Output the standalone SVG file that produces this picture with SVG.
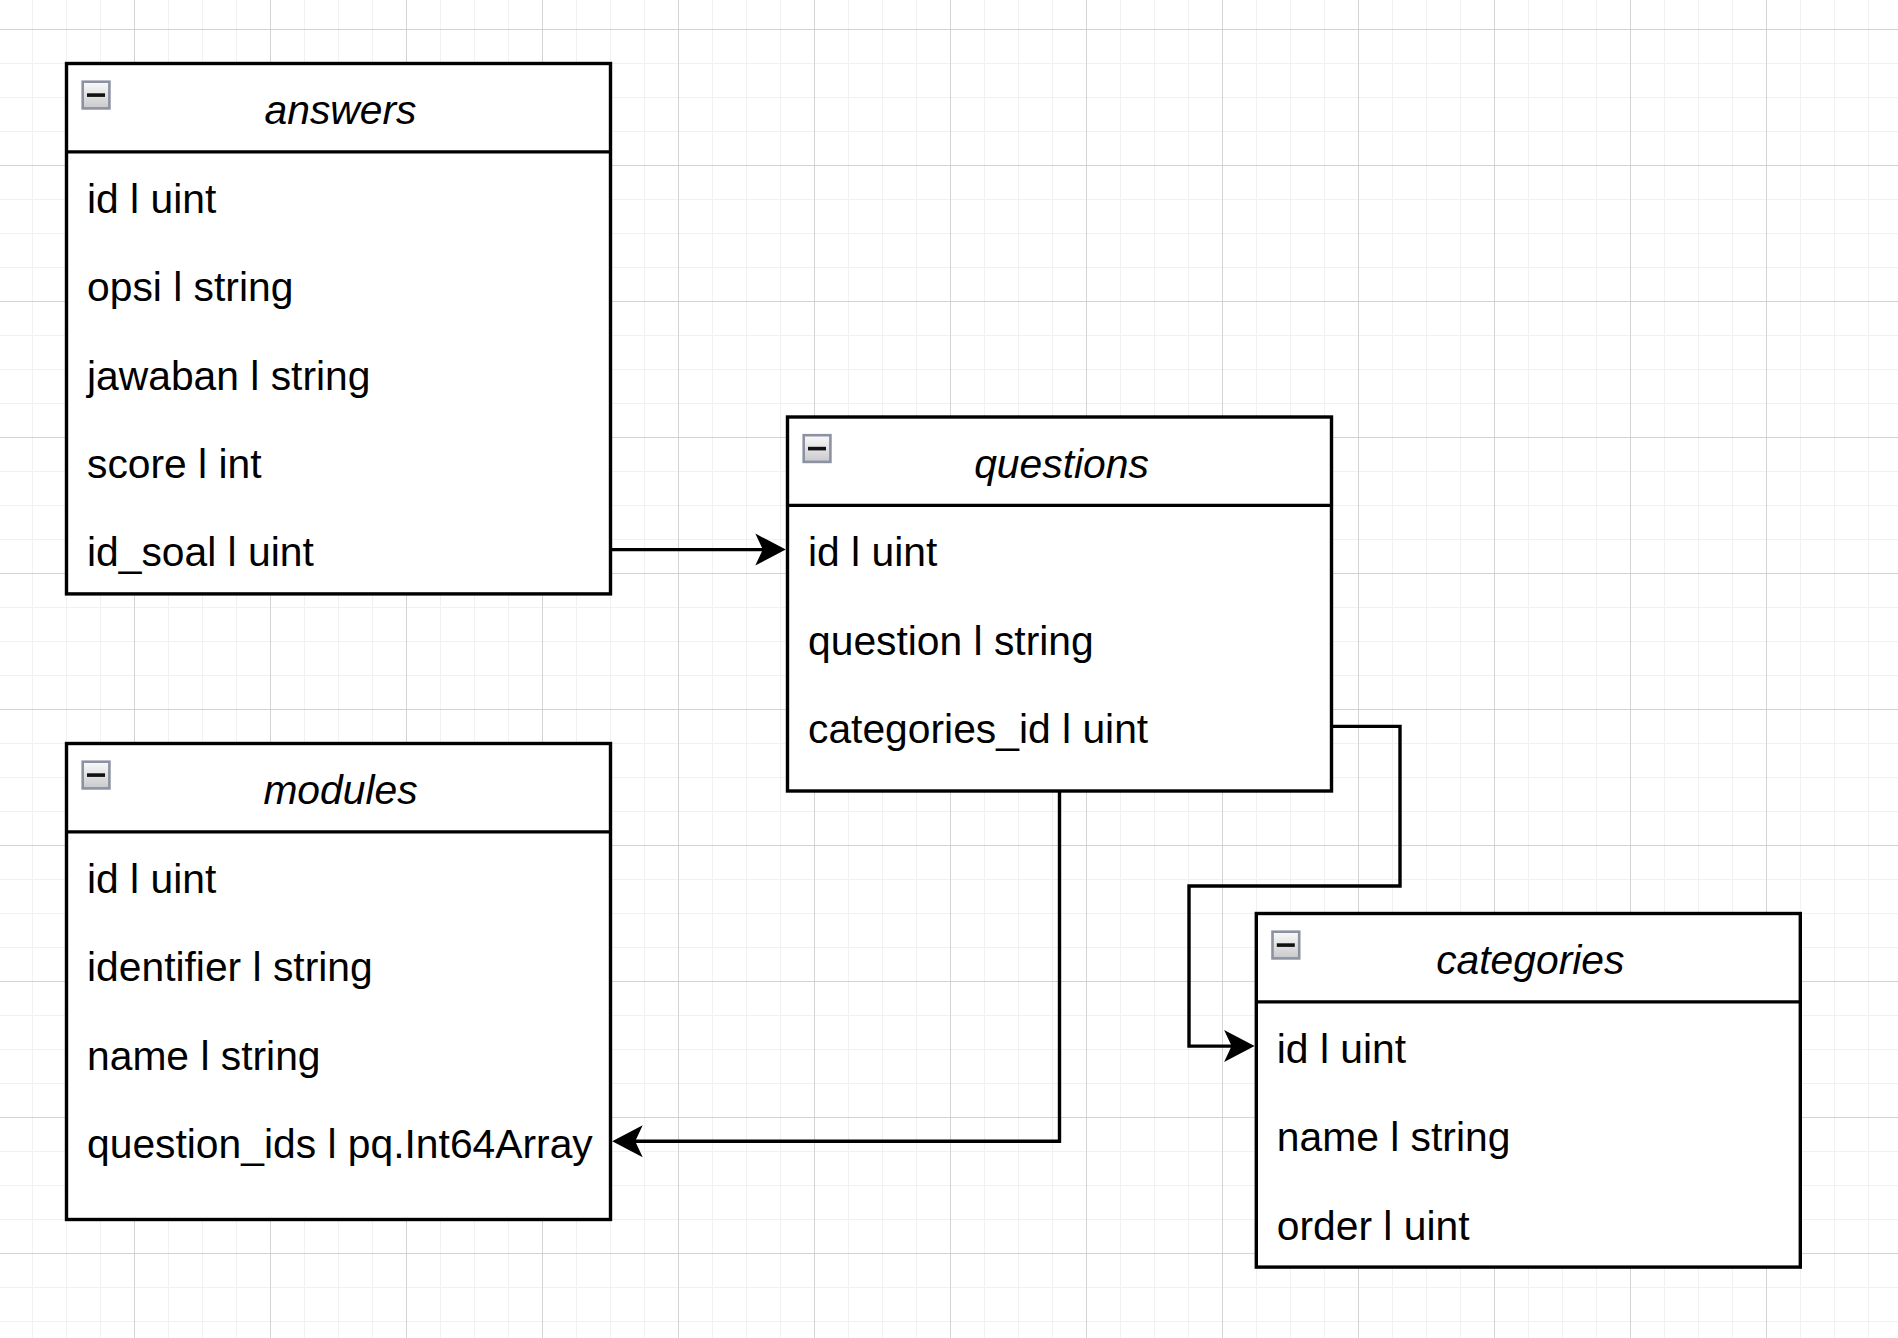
<svg xmlns="http://www.w3.org/2000/svg" width="1898" height="1338" viewBox="0 0 1898 1338">
  <style>
    .box { fill: #ffffff; stroke: #000000; stroke-width: 3.4; }
    .div { stroke: #000000; stroke-width: 3.4; fill: none; }
    .title { font-family: "Liberation Sans", Arial, sans-serif; font-size: 40.8px; font-style: italic; fill: #000000; text-anchor: middle; }
    .field { font-family: "Liberation Sans", Arial, sans-serif; font-size: 40.8px; fill: #000000; }
    .icon { fill: url(#iconGrad); stroke: #8c92a2; stroke-width: 2.6; }
    .dash { fill: #111111; }
    .edge { fill: none; stroke: #000000; stroke-width: 3.4; stroke-linejoin: miter; }
  </style>
  <defs>
    <linearGradient id="iconGrad" x1="0" y1="0" x2="0" y2="1">
      <stop offset="0" stop-color="#fafafa"/>
      <stop offset="1" stop-color="#c9c9cc"/>
    </linearGradient>
    <pattern id="grid" patternUnits="userSpaceOnUse" x="-2" y="29" width="136" height="136">
      <rect x="0" y="0" width="136" height="136" fill="#ffffff"/>
      <path d="M34.5,0 V136 M68.5,0 V136 M102.5,0 V136 M0,34.5 H136 M0,68.5 H136 M0,102.5 H136" stroke="#f1f1f1" stroke-width="1" fill="none"/>
      <path d="M0.5,0 V136 M0,0.5 H136" stroke="#d3d3d3" stroke-width="1" fill="none"/>
    </pattern>
    <marker id="arrow" markerUnits="userSpaceOnUse" viewBox="-22 -18 36 36" markerWidth="36" markerHeight="36" refX="0" refY="0" orient="auto">
      <path d="M10,0 L-20.5,-16 L-13,0 L-20.5,16 Z" fill="#000000" stroke="none"/>
    </marker>
  </defs>

  <rect x="0" y="0" width="1898" height="1338" fill="url(#grid)"/>

  <g id="connectors">
    <path class="edge" d="M610.5,549.6 H775.8" marker-end="url(#arrow)"/>
    <path class="edge" d="M1059.5,791 V1141.3 H622.2" marker-end="url(#arrow)"/>
    <path class="edge" d="M1331.5,726.4 H1400 V886 H1189 V1046.1 H1244.6" marker-end="url(#arrow)"/>
  </g>

  <g id="answers" transform="translate(66.5,63.5)">
    <rect class="box" x="0" y="0" width="544" height="530.4"/>
    <line class="div" x1="0" y1="88.4" x2="544" y2="88.4"/>
    <rect class="icon" x="16.2" y="18.2" width="26.7" height="26.7"/>
    <rect class="dash" x="20.5" y="29.8" width="18" height="3.6"/>
    <text class="title" x="274" y="60.8">answers</text>
    <text class="field" x="20.5" y="149.2">id l uint</text>
    <text class="field" x="20.5" y="237.6">opsi l string</text>
    <text class="field" x="20.5" y="326">jawaban l string</text>
    <text class="field" x="20.5" y="414.4">score l int</text>
    <text class="field" x="20.5" y="502.8">id_soal l uint</text>
  </g>

  <g id="questions" transform="translate(787.5,417)">
    <rect class="box" x="0" y="0" width="544" height="374"/>
    <line class="div" x1="0" y1="88.4" x2="544" y2="88.4"/>
    <rect class="icon" x="16.2" y="18.2" width="26.7" height="26.7"/>
    <rect class="dash" x="20.5" y="29.8" width="18" height="3.6"/>
    <text class="title" x="274" y="60.8">questions</text>
    <text class="field" x="20.5" y="149.2">id l uint</text>
    <text class="field" x="20.5" y="237.6">question l string</text>
    <text class="field" x="20.5" y="326">categories_id l uint</text>
  </g>

  <g id="modules" transform="translate(66.5,743.5)">
    <rect class="box" x="0" y="0" width="544" height="476"/>
    <line class="div" x1="0" y1="88.4" x2="544" y2="88.4"/>
    <rect class="icon" x="16.2" y="18.2" width="26.7" height="26.7"/>
    <rect class="dash" x="20.5" y="29.8" width="18" height="3.6"/>
    <text class="title" x="274" y="60.8">modules</text>
    <text class="field" x="20.5" y="149.2">id l uint</text>
    <text class="field" x="20.5" y="237.6">identifier l string</text>
    <text class="field" x="20.5" y="326">name l string</text>
    <text class="field" x="20.5" y="414.4">question_ids l pq.Int64Array</text>
  </g>

  <g id="categories" transform="translate(1256.3,913.5)">
    <rect class="box" x="0" y="0" width="544" height="353.6"/>
    <line class="div" x1="0" y1="88.4" x2="544" y2="88.4"/>
    <rect class="icon" x="16.2" y="18.2" width="26.7" height="26.7"/>
    <rect class="dash" x="20.5" y="29.8" width="18" height="3.6"/>
    <text class="title" x="274" y="60.8">categories</text>
    <text class="field" x="20.5" y="149.2">id l uint</text>
    <text class="field" x="20.5" y="237.6">name l string</text>
    <text class="field" x="20.5" y="326">order l uint</text>
  </g>
</svg>
